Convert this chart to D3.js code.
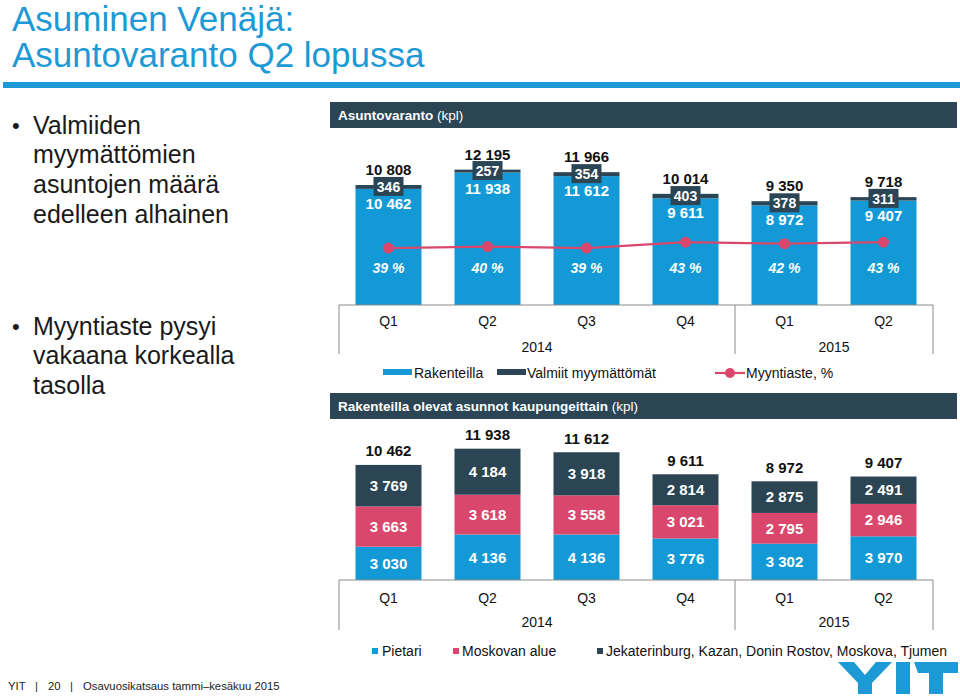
<!DOCTYPE html>
<html><head><meta charset="utf-8">
<script src="https://cdn.jsdelivr.net/npm/d3@7"></script>
<style>
html,body{margin:0;padding:0;background:#fff;}
svg{display:block;font-family:"Liberation Sans",Arial,sans-serif;}
</style></head>
<body>
<script>
// ---- data ----
const quarters = ["Q1","Q2","Q3","Q4","Q1","Q2"];
const yearLabels = ["2014","2015"];
const yearSpans = [4,2];
const underConstruction = [10462,11938,11612,9611,8972,9407];
const completedUnsold = [346,257,354,403,378,311];
const stockTotals = [10808,12195,11966,10014,9350,9718];
const salesRate = [39,40,39,43,42,43];
const pietari = [3030,4136,4136,3776,3302,3970];
const moskovanAlue = [3663,3618,3558,3021,2795,2946];
const otherCities = [3769,4184,3918,2814,2875,2491];
const cityTotals = [10462,11938,11612,9611,8972,9407];
const bullets1 = ["Valmiiden","myymättömien","asuntojen määrä","edelleen alhainen"];
const bullets2 = ["Myyntiaste pysyi","vakaana korkealla","tasolla"];
const legendTop = ["Rakenteilla","Valmiit myymättömät","Myyntiaste, %"];
const legendBottom = ["Pietari","Moskovan alue","Jekaterinburg, Kazan, Donin Rostov, Moskova, Tjumen"];
const footerParts = ["YIT","|","20","|","Osavuosikatsaus tammi–kesäkuu 2015"];

const BLUE = "#139ad6", DARK = "#2b4555", PINK = "#d9476c", TITLE = "#1b9ad6";
const fmt = v => d3.format(",")(v).replace(/,/g, " ");

const svg = d3.select("body").append("svg").attr("width",960).attr("height",696);

// ---- title ----
svg.append("text").attr("x",12).attr("y",31).attr("font-size",35).attr("fill",TITLE).text("Asuminen Venäjä:");
svg.append("text").attr("x",12).attr("y",67).attr("font-size",35).attr("fill",TITLE).text("Asuntovaranto Q2 lopussa");
svg.append("rect").attr("x",3).attr("y",82).attr("width",957).attr("height",6).attr("fill",TITLE);

// ---- bullets ----
function bulletBlock(lines, y0){
  svg.append("text").attr("x",12).attr("y",y0).attr("dy","0.35em").attr("font-size",22).attr("fill","#1a1a1a").text("•");
  lines.forEach((l,i)=>svg.append("text").attr("x",33).attr("y",y0+i*29.7).attr("dy","0.35em")
    .attr("font-size",25).attr("fill","#1a1a1a").text(l));
}
bulletBlock(bullets1,125);
bulletBlock(bullets2,326);

// ---- shared x ----
const x = d3.scaleBand().domain(d3.range(6)).range([339,933]).paddingInner(1/3).paddingOuter(1/6);
const cx = i => x(i) + x.bandwidth()/2;

function header(y, bold, normal){
  svg.append("rect").attr("x",330).attr("y",y).attr("width",627).attr("height",26).attr("fill",DARK);
  const t = svg.append("text").attr("x",338).attr("y",y+13).attr("dy","0.35em").attr("font-size",13.5).attr("fill","#fff");
  t.append("tspan").attr("font-weight","bold").text(bold);
  t.append("tspan").text(" " + normal);
}

function axisBlock(y0, qY, yrY, bottom){
  const g = svg.append("g");
  g.append("line").attr("x1",339).attr("x2",933).attr("y1",y0).attr("y2",y0).attr("stroke","#8a8a8a");
  [339, 339 + yearSpans[0]*x.step(), 933].forEach(vx=>
    g.append("line").attr("x1",vx).attr("x2",vx).attr("y1",y0).attr("y2",bottom).attr("stroke","#8a8a8a"));
  quarters.forEach((q,i)=>g.append("text").attr("x",cx(i)).attr("y",qY).attr("dy","0.35em")
    .attr("text-anchor","middle").attr("font-size",14).attr("fill","#111").text(q));
  let s=0;
  yearLabels.forEach((yl,k)=>{
    const a = 339 + s*x.step(), b = 339 + (s+yearSpans[k])*x.step();
    g.append("text").attr("x",(a+b)/2).attr("y",yrY).attr("dy","0.35em").attr("text-anchor","middle")
      .attr("font-size",14).attr("fill","#111").text(yl);
    s += yearSpans[k];
  });
}

// ---- top chart ----
header(102,"Asuntovaranto","(kpl)");
const yTop = d3.scaleLinear().domain([0,14000]).range([305,305-14000*0.0111]);
const yPct = d3.scaleLinear().domain([0,100]).range([305,159]);
const gt = svg.append("g");
quarters.forEach((q,i)=>{
  const uc = underConstruction[i], cu = completedUnsold[i];
  gt.append("rect").attr("x",x(i)).attr("width",x.bandwidth()).attr("y",yTop(uc)).attr("height",yTop(0)-yTop(uc)).attr("fill",BLUE);
  gt.append("rect").attr("x",x(i)).attr("width",x.bandwidth()).attr("y",yTop(uc+cu)).attr("height",yTop(uc)-yTop(uc+cu)).attr("fill",DARK);
});
const line = d3.line().x((d,i)=>cx(i)).y(d=>yPct(d));
gt.append("path").datum(salesRate).attr("d",line).attr("fill","none").attr("stroke",PINK).attr("stroke-width",2.2);
salesRate.forEach((p,i)=>gt.append("circle").attr("cx",cx(i)).attr("cy",yPct(p)).attr("r",5.5).attr("fill",PINK));
quarters.forEach((q,i)=>{
  const uc = underConstruction[i], cu = completedUnsold[i];
  const topY = yTop(uc+cu);
  gt.append("text").attr("x",cx(i)).attr("y",topY-15).attr("dy","0.35em").attr("text-anchor","middle")
    .attr("font-size",15).attr("font-weight","bold").attr("fill","#111").text(fmt(stockTotals[i]));
  const midDark = (yTop(uc)+topY)/2;
  gt.append("rect").attr("x",cx(i)-15).attr("y",midDark-10).attr("width",30).attr("height",19).attr("fill",DARK);
  gt.append("text").attr("x",cx(i)).attr("y",midDark).attr("dy","0.35em").attr("text-anchor","middle")
    .attr("font-size",14).attr("font-weight","bold").attr("fill","#fff").text(fmt(cu));
  gt.append("text").attr("x",cx(i)).attr("y",topY+19).attr("dy","0.35em").attr("text-anchor","middle")
    .attr("font-size",15).attr("font-weight","bold").attr("fill","#fff").text(fmt(uc));
  gt.append("text").attr("x",cx(i)).attr("y",268).attr("dy","0.35em").attr("text-anchor","middle")
    .attr("font-size",14).attr("font-weight","bold").attr("font-style","italic").attr("fill","#fff").text(salesRate[i] + " %");
});
axisBlock(305,321,347,354);

// top legend
const lt = svg.append("g").attr("font-size",14).attr("fill","#111");
lt.append("rect").attr("x",383).attr("y",369).attr("width",29).attr("height",6).attr("fill",BLUE);
lt.append("text").attr("x",414).attr("y",373).attr("dy","0.35em").text(legendTop[0]);
lt.append("rect").attr("x",497).attr("y",369).attr("width",29).attr("height",6).attr("fill",DARK);
lt.append("text").attr("x",527).attr("y",373).attr("dy","0.35em").text(legendTop[1]);
lt.append("line").attr("x1",715).attr("x2",745).attr("y1",373).attr("y2",373).attr("stroke",PINK).attr("stroke-width",2.2);
lt.append("circle").attr("cx",730).attr("cy",373).attr("r",5).attr("fill",PINK);
lt.append("text").attr("x",746).attr("y",373).attr("dy","0.35em").text(legendTop[2]);

// ---- bottom chart ----
header(393,"Rakenteilla olevat asunnot kaupungeittain","(kpl)");
const yBot = d3.scaleLinear().domain([0,14000]).range([580,580-14000*0.011]);
const gb = svg.append("g");
const series = [[pietari,BLUE],[moskovanAlue,PINK],[otherCities,DARK]];
quarters.forEach((q,i)=>{
  let base = 0;
  series.forEach(([arr,col])=>{
    const v = arr[i];
    gb.append("rect").attr("x",x(i)).attr("width",x.bandwidth()).attr("y",yBot(base+v)).attr("height",yBot(base)-yBot(base+v)).attr("fill",col);
    gb.append("text").attr("x",cx(i)).attr("y",(yBot(base)+yBot(base+v))/2).attr("dy","0.35em").attr("text-anchor","middle")
      .attr("font-size",15).attr("font-weight","bold").attr("fill","#fff").text(fmt(v));
    base += v;
  });
  gb.append("text").attr("x",cx(i)).attr("y",yBot(base)-14).attr("dy","0.35em").attr("text-anchor","middle")
    .attr("font-size",15).attr("font-weight","bold").attr("fill","#111").text(fmt(cityTotals[i]));
});
axisBlock(580,598,622,630);

// bottom legend
const lb = svg.append("g").attr("font-size",14).attr("fill","#111");
[[375,382,BLUE],[456,462,PINK],[600,606,DARK]].forEach(([mx,tx,col],k)=>{
  lb.append("rect").attr("x",mx-3).attr("y",648).attr("width",6).attr("height",6).attr("fill",col);
  lb.append("text").attr("x",tx).attr("y",651).attr("dy","0.35em").text(legendBottom[k]);
});

// ---- footer ----
const fx = [8,35,48,70,83];
footerParts.forEach((p,k)=>svg.append("text").attr("x",fx[k]).attr("y",686).attr("dy","0.35em")
  .attr("font-size",11.3).attr("fill","#222").text(p));

// logo
const logo = svg.append("g").attr("transform","translate(838,662)").attr("fill",TITLE);
logo.append("polygon").attr("points","0,0 16,0 27,13 38,0 54,0 34,21 34,32 20,32 20,21");
logo.append("rect").attr("x",58).attr("y",0).attr("width",14).attr("height",32);
logo.append("polygon").attr("points","76,0 120,0 120,11 105,11 105,32 91,32 91,11 80,11");
</script>
</body></html>
